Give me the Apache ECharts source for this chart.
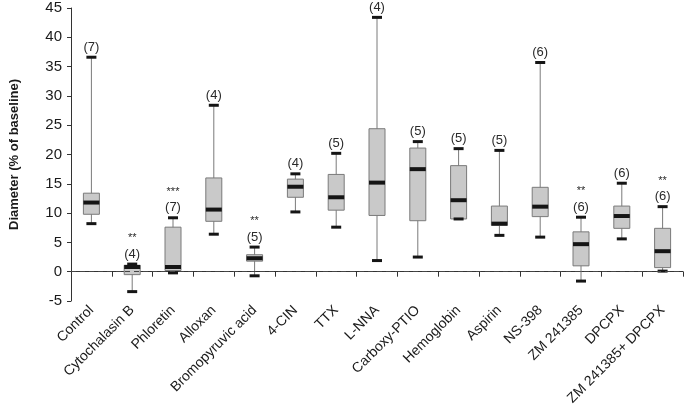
<!DOCTYPE html>
<html>
<head>
<meta charset="utf-8">
<script src="https://cdn.jsdelivr.net/npm/echarts@6/dist/echarts.min.js"></script>
<style>
html,body{margin:0;padding:0;background:#fff;}
#chart{width:685px;height:419px;}
</style>
</head>
<body>
<div id="chart"></div>
<script>
const categories = ['Control','Cytochalasin B','Phloretin','Alloxan','Bromopyruvic acid','4-CIN','TTX','L-NNA','Carboxy-PTIO','Hemoglobin','Aspirin','NS-398','ZM 241385','DPCPX','ZM 241385+ DPCPX'];
const minVals    = [8.2, -3.4, -0.2, 6.4, -0.7, 10.2, 7.6, 1.9, 2.5, 9.0, 6.2, 5.9, -1.6, 5.6, 0.1];
const q1Vals     = [9.8, -0.5, 0.2, 8.6, 1.8, 12.7, 10.5, 9.6, 8.7, 9.0, 7.9, 9.4, 1.0, 7.4, 0.7];
const medianVals = [11.8, 0.8, 0.8, 10.6, 2.3, 14.5, 12.7, 15.2, 17.5, 12.2, 8.2, 11.1, 4.7, 9.5, 3.5];
const q3Vals     = [13.4, 1.1, 7.6, 16.0, 2.9, 15.8, 16.6, 24.4, 21.1, 18.1, 11.2, 14.4, 6.8, 11.2, 7.4];
const maxVals    = [36.6, 1.3, 9.2, 28.4, 4.2, 16.7, 20.2, 43.4, 22.2, 21.0, 20.7, 35.7, 9.3, 15.1, 11.1];
const nLabels    = ['(7)','(4)','(7)','(4)','(5)','(4)','(5)','(4)','(5)','(5)','(5)','(6)','(6)','(6)','(6)'];
const sigLabels  = ['','**','***','','**','','','','','','','','**','','**'];
const yTicks = {min: -5, max: 45, interval: 5};

const data = categories.map((c, i) => [i, minVals[i], q1Vals[i], medianVals[i], q3Vals[i], maxVals[i]]);

function renderItem(params, api) {
  const i = api.value(0);
  const x = api.coord([i, 0])[0];
  const yMin = api.coord([i, api.value(1)])[1];
  const yQ1 = api.coord([i, api.value(2)])[1];
  const yMed = api.coord([i, api.value(3)])[1];
  const yQ3 = api.coord([i, api.value(4)])[1];
  const yMax = api.coord([i, api.value(5)])[1];
  const boxW = 16, capW = 10;
  const children = [
    {type: 'line', shape: {x1: x, y1: yMax, x2: x, y2: yMin}, style: {stroke: '#7a7a7a', lineWidth: 1}},
    {type: 'rect', shape: {x: x - boxW / 2, y: yQ3, width: boxW, height: yQ1 - yQ3}, style: {fill: '#c9c9c9', stroke: '#7a7a7a', lineWidth: 1}},
    {type: 'rect', shape: {x: x - boxW / 2, y: yMed - 2, width: boxW, height: 4}, style: {fill: '#151515'}},
    {type: 'rect', shape: {x: x - capW / 2, y: yMax - 1.5, width: capW, height: 3}, style: {fill: '#151515'}},
    {type: 'rect', shape: {x: x - capW / 2, y: yMin - 1.5, width: capW, height: 3}, style: {fill: '#151515'}},
    {type: 'text', style: {text: nLabels[i], x: x, y: yMax - 10, align: 'center', verticalAlign: 'middle', fill: '#2a2a2a', font: '13px "Liberation Sans", Arial, sans-serif'}}
  ];
  if (sigLabels[i]) {
    children.push({type: 'text', style: {text: sigLabels[i], x: x, y: yMax - 26, align: 'center', verticalAlign: 'middle', fill: '#2a2a2a', font: '11px "Liberation Sans", Arial, sans-serif'}});
  }
  return {type: 'group', children: children};
}

const chart = echarts.init(document.getElementById('chart'), null, {renderer: 'canvas'});
chart.setOption({
  backgroundColor: '#fff',
  animation: false,
  textStyle: {fontFamily: '"Liberation Sans", Arial, sans-serif'},
  grid: {left: 58, right: 2, top: 8, bottom: 118},
  xAxis: {
    type: 'category',
    data: categories,
    boundaryGap: true,
    axisLine: {lineStyle: {color: '#333', width: 1}},
    axisTick: {show: true, length: 5, lineStyle: {color: '#333'}},
    axisLabel: {rotate: 45, fontSize: 14, color: '#1a1a1a', margin: 7, interval: 0}
  },
  yAxis: {
    type: 'value',
    min: yTicks.min, max: yTicks.max, interval: yTicks.interval,
    name: 'Diameter (% of baseline)',
    nameLocation: 'middle',
    nameGap: 50,
    nameTextStyle: {fontSize: 13, fontWeight: 'bold', color: '#1a1a1a'},
    axisLine: {show: true, lineStyle: {color: '#333', width: 1}},
    axisTick: {show: true, length: 4, lineStyle: {color: '#333'}},
    axisLabel: {fontSize: 15, color: '#1a1a1a', margin: 9},
    splitLine: {show: false}
  },
  series: [{
    type: 'custom',
    renderItem: renderItem,
    data: data,
    clip: false,
    encode: {x: 0, y: [1, 2, 3, 4, 5]},
    markLine: {
      silent: true,
      symbol: ['none', 'none'],
      label: {show: false},
      lineStyle: {color: '#444', type: [5, 4], width: 1},
      data: [{yAxis: 0}]
    }
  }]
});
</script>
</body>
</html>
